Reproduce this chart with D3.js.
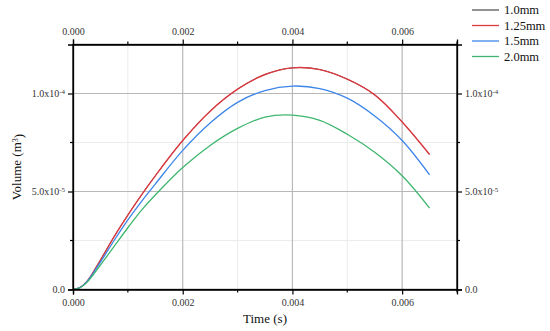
<!DOCTYPE html>
<html><head><meta charset="utf-8">
<script src="https://cdn.jsdelivr.net/npm/d3@7"></script>
<style>body{margin:0;background:#fff}svg{display:block}text{font-family:"Liberation Serif","Times New Roman",serif}</style>
</head><body><svg id="c" width="550" height="331"></svg>
<script>
const times = [0, 0.000125, 0.00025, 0.0005, 0.00075, 0.001, 0.00125, 0.0015, 0.002, 0.0025, 0.003, 0.0035, 0.004, 0.0045, 0.005, 0.0055, 0.006, 0.0065];
const v10  = [0, 1.0e-6, 4.0e-6, 1.5e-5, 2.7e-5, 3.8e-5, 4.83e-5, 5.8e-5, 7.6e-5, 9.1e-5, 1.022e-4, 1.097e-4, 1.131e-4, 1.122e-4, 1.073e-4, 9.93e-5, 8.55e-5, 6.89e-5];
const v125 = [0, 1.0e-6, 4.0e-6, 1.5e-5, 2.7e-5, 3.8e-5, 4.83e-5, 5.8e-5, 7.6e-5, 9.1e-5, 1.022e-4, 1.097e-4, 1.131e-4, 1.122e-4, 1.073e-4, 9.93e-5, 8.55e-5, 6.89e-5];
const v15  = [0, 0.95e-6, 3.8e-6, 1.4e-5, 2.5e-5, 3.55e-5, 4.5e-5, 5.38e-5, 7.1e-5, 8.5e-5, 9.55e-5, 1.015e-4, 1.038e-4, 1.025e-4, 9.76e-5, 8.85e-5, 7.6e-5, 5.85e-5];
const v20  = [0, 0.9e-6, 3.5e-6, 1.25e-5, 2.2e-5, 3.15e-5, 4.05e-5, 4.82e-5, 6.22e-5, 7.35e-5, 8.22e-5, 8.8e-5, 8.9e-5, 8.63e-5, 7.92e-5, 7.0e-5, 5.8e-5, 4.15e-5];
const seriesNames = ["1.0mm", "1.25mm", "1.5mm", "2.0mm"];
const seriesColors = ["#555555", "#dc3a40", "#3d85e8", "#3fb66f"];
const seriesWidths = [1.0, 1.4, 1.3, 1.3];
const xTicks = [0, 0.002, 0.004, 0.006];
const xMinor = [0.001, 0.003, 0.005, 0.007];
const yTicks = [0, 5e-5, 1e-4];
const yTickLabels = [["0.0", ""], ["5.0x10", "-5"], ["1.0x10", "-4"]];
const yMinor = [2.5e-5, 7.5e-5];

const svg = d3.select("#c");
const L = 73, R = 457, T = 44.5, B = 289.5;
const x = d3.scaleLinear().domain([0, 0.007]).range([L, R]);
const y = d3.scaleLinear().domain([0, 1.25e-4]).range([B, T]);

const g = svg.append("g");
// grid
g.selectAll(".gxm").data(xMinor.filter(d => d < 0.007)).join("line")
  .attr("x1", d => x(d)).attr("x2", d => x(d)).attr("y1", T).attr("y2", B)
  .attr("stroke", "#ececec").attr("stroke-width", 1);
g.selectAll(".gym").data(yMinor).join("line")
  .attr("y1", d => y(d)).attr("y2", d => y(d)).attr("x1", L).attr("x2", R)
  .attr("stroke", "#ececec").attr("stroke-width", 1);
g.selectAll(".gx").data(xTicks.slice(1)).join("line")
  .attr("x1", d => x(d)).attr("x2", d => x(d)).attr("y1", T).attr("y2", B)
  .attr("stroke", "#b8b8b8").attr("stroke-width", 1.2);
g.selectAll(".gy").data(yTicks.slice(1)).join("line")
  .attr("y1", d => y(d)).attr("y2", d => y(d)).attr("x1", L).attr("x2", R)
  .attr("stroke", "#b8b8b8").attr("stroke-width", 1.2);

// lines
const allSeries = [v10, v125, v15, v20];
const line = d3.line().x((d, i) => x(times[i])).y(d => y(d)).curve(d3.curveCatmullRom.alpha(0.5));
allSeries.forEach((s, k) => {
  svg.append("path").attr("d", line(s)).attr("fill", "none")
    .attr("stroke", seriesColors[k]).attr("stroke-width", seriesWidths[k]);
});

// axes
function styleAxis(sel) {
  sel.attr("font-family", null);
  sel.selectAll("path").attr("stroke", "#000").attr("stroke-width", 1.3);
  sel.selectAll("line").attr("stroke", "#000").attr("stroke-width", 1.2);
  sel.selectAll("text").attr("fill", "#333").style("font-size", "10px")
    .style("font-family", '"Liberation Serif","Times New Roman",serif');
}
const fmtX = d3.format(".3f");
const xb = svg.append("g").attr("transform", `translate(0,${B})`)
  .call(d3.axisBottom(x).tickValues(xTicks).tickFormat(fmtX).tickSizeOuter(0).tickSize(5).tickPadding(4));
styleAxis(xb);
const xt = svg.append("g").attr("transform", `translate(0,${T})`)
  .call(d3.axisTop(x).tickValues(xTicks).tickFormat(fmtX).tickSizeOuter(0).tickSize(5).tickPadding(5));
styleAxis(xt);
// minor x ticks
[B, T].forEach((yy, j) => {
  svg.selectAll(null).data(xMinor).join("line")
    .attr("x1", d => x(d)).attr("x2", d => x(d))
    .attr("y1", yy).attr("y2", j === 0 ? yy + 3 : yy - 3)
    .attr("stroke", "#000").attr("stroke-width", 1.2);
});

const yl = svg.append("g").attr("transform", `translate(${L},0)`)
  .call(d3.axisLeft(y).tickValues(yTicks).tickFormat("").tickSizeOuter(0).tickSize(5));
styleAxis(yl);
const yr = svg.append("g").attr("transform", `translate(${R},0)`)
  .call(d3.axisRight(y).tickValues(yTicks).tickFormat("").tickSizeOuter(0).tickSize(5));
styleAxis(yr);
[L, R].forEach((xx, j) => {
  svg.selectAll(null).data(yMinor).join("line")
    .attr("y1", d => y(d)).attr("y2", d => y(d))
    .attr("x1", xx).attr("x2", j === 0 ? xx - 3 : xx + 3)
    .attr("stroke", "#000").attr("stroke-width", 1.2);
});
// y tick labels with superscripts
yTicks.forEach((v, i) => {
  const [base, sup] = yTickLabels[i];
  const tl = svg.append("text").attr("x", L - 8).attr("y", y(v)).attr("dy", "0.35em")
    .attr("text-anchor", "end").attr("fill", "#333").style("font-size", "10px");
  tl.append("tspan").text(base);
  if (sup) tl.append("tspan").attr("dy", "-0.45em").style("font-size", "7px").text(sup);
  const tr = svg.append("text").attr("x", R + 8).attr("y", y(v)).attr("dy", "0.35em")
    .attr("text-anchor", "start").attr("fill", "#333").style("font-size", "10px");
  tr.append("tspan").text(base);
  if (sup) tr.append("tspan").attr("dy", "-0.45em").style("font-size", "7px").text(sup);
});
// frame
svg.append("rect").attr("x", L).attr("y", T).attr("width", R - L).attr("height", B - T)
  .attr("fill", "none").attr("stroke", "#000").attr("stroke-width", 1.3);

// titles
svg.append("text").attr("x", (L + R) / 2).attr("y", 323).attr("text-anchor", "middle")
  .attr("fill", "#111").style("font-size", "13px").text("Time (s)");
const yt = svg.append("text").attr("transform", `translate(21,${(T + B) / 2}) rotate(-90)`)
  .attr("text-anchor", "middle").attr("fill", "#111").style("font-size", "13px");
yt.append("tspan").text("Volume (m");
yt.append("tspan").attr("dy", "-0.4em").style("font-size", "8px").text("3");
yt.append("tspan").attr("dy", "0.4em").text(")");

// legend
seriesNames.forEach((n, i) => {
  const yy = 10 + i * 15.5;
  svg.append("line").attr("x1", 472).attr("x2", 499).attr("y1", yy).attr("y2", yy)
    .attr("stroke", seriesColors[i]).attr("stroke-width", 1.3);
  svg.append("text").attr("x", 504).attr("y", yy).attr("dy", "0.35em")
    .attr("fill", "#111").style("font-size", "12.5px").text(n);
});
</script></body></html>
